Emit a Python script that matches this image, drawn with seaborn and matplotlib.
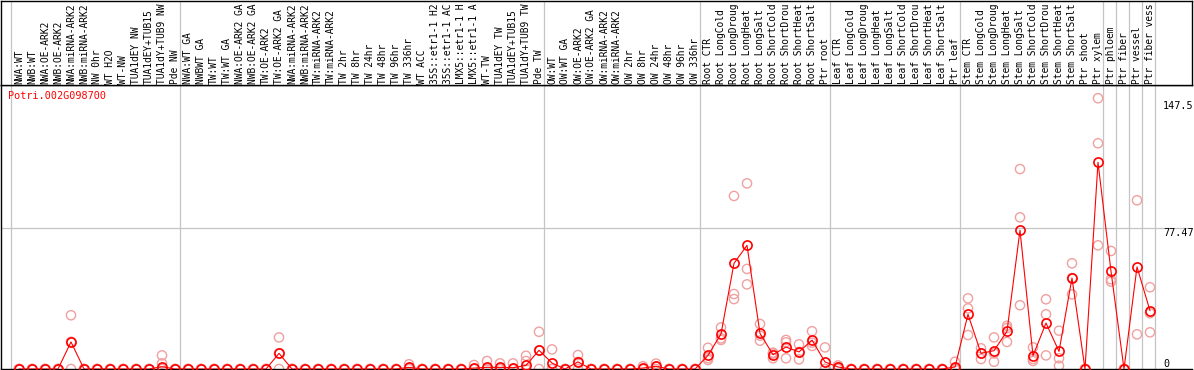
import numpy as np
import pandas as pd
import matplotlib
matplotlib.use("Agg")
import matplotlib.pyplot as plt
import matplotlib.transforms as mtransforms
import seaborn as sns

# ---------------- data ----------------
gene = "Potri.002G098700"

labels_nw = ["NWA:WT", "NWB:WT", "NWA:OE-ARK2", "NWB:OE-ARK2", "NWA:miRNA-ARK2",
             "NWB:miRNA-ARK2", "NW 0hr", "WT H2O", "WT-NW", "TUA1dEY NW",
             "TUA1dEY+TUB15 NW", "TUA1dY+TUB9 NW", "Pde NW"]
labels_tw = ["NWA:WT GA", "NWBWT GA", "TW:WT", "TW:WT GA", "NWA:OE-ARK2 GA",
             "NWB:OE-ARK2 GA", "TW:OE-ARK2", "TW:OE-ARK2 GA", "NWA:miRNA-ARK2 GA",
             "NWB:miRNA-ARK2 GA", "TW:miRNA-ARK2", "TW:miRNA-ARK2 GA", "TW 2hr", "TW 8hr",
             "TW 24hr", "TW 48hr", "TW 96hr", "TW 336hr", "WT ACC", "35S::etr1-1 H2O",
             "35S::etr1-1 ACC", "LMX5::etr1-1 H2O", "LMX5::etr1-1 ACC", "WT-TW",
             "TUA1dEY TW", "TUA1dEY+TUB15 TW", "TUA1dY+TUB9 TW", "Pde TW"]
labels_ow = ["OW:WT", "OW:WT GA", "OW:OE-ARK2", "OW:OE-ARK2 GA", "OW:miRNA-ARK2",
             "OW:miRNA-ARK2 GA", "OW 2hr", "OW 8hr", "OW 24hr", "OW 48hr", "OW 96hr",
             "OW 336hr"]
labels_root = ["Root CTR", "Root LongCold", "Root LongDrought", "Root LongHeat",
               "Root LongSalt", "Root ShortCold", "Root ShortDrought", "Root ShortHeat",
               "Root ShortSalt", "Ptr root"]
labels_leaf = ["Leaf CTR", "Leaf LongCold", "Leaf LongDrought", "Leaf LongHeat",
               "Leaf LongSalt", "Leaf ShortCold", "Leaf ShortDrought", "Leaf ShortHeat",
               "Leaf ShortSalt", "Ptr leaf"]
labels_stem = ["Stem CTR", "Stem LongCold", "Stem LongDrought", "Stem LongHeat",
               "Stem LongSalt", "Stem ShortCold", "Stem ShortDrought", "Stem ShortHeat",
               "Stem ShortSalt", "Ptr shoot", "Ptr xylem"]
labels_tissue = ["Ptr phloem", "Ptr fiber", "Ptr vessel", "Ptr fiber vessel"]

group_sizes = [13, 28, 12, 10, 10, 11, 1, 1, 1, 1]

mean_values = [
    # NW
    0, 0, 0, 0, 14.9, 0, 0, 0, 0, 0, 0, 1.3, 0,
    # TW
    0, 0, 0, 0, 0, 0, 0, 8.6, 0, 0, 0, 0, 0, 0, 0, 0, 0, 0.9, 0, 0, 0, 0,
    0.5, 0.9, 0.9, 0.7, 2.0, 10.3,
    # OW
    3.3, 0, 3.9, 0, 0, 0, 0, 0.5, 1.5, 0, 0, 0,
    # Root
    7.5, 19.3, 58.2, 68.1, 19.6, 7.9, 12.1, 9.4, 15.9, 3.9,
    # Leaf
    1.1, 0, 0, 0, 0, 0, 0, 0, 0, 1.1,
    # Stem
    30.1, 8.6, 10.1, 20.8, 76.4, 7.3, 25.3, 9.7, 50.1, 0, 113.8,
    # tissues
    53.8, 0, 56.2, 32.1,
]

rep1 = [0, 0, 0, 0, 29.6, 0, 0, 0, 0, 0, 0, 7.5, 0,
        0, 0, 0, 0, 0, 0, 0, 17.4, 0, 0, 0, 0, 0, 0, 0, 0, 0, 2.6, 0, 0, 0, 0,
        2.2, 4.4, 3.1, 3.1, 7.3, 20.5,
        10.8, 0, 7.7, 0, 0, 0, 0, 1.5, 3.0, 0, 0, 0,
        11.7, 22.9, 95.3, 102.2, 24.8, 9.0, 16.0, 13.6, 20.8, 11.9,
        2.0, 0, 0, 0, 0, 0, 0, 0, 0, 4.0,
        38.9, 11.4, 17.4, 23.8, 110.1, 11.9, 38.4, 21.1, 58.2, 0, 149.1,
        65.0, 0, 92.9, 45.0]
rep2 = [0, 0, 0, 0, 15.0, 0, 0, 0, 0, 0, 0, 3.1, 0,
        0, 0, 0, 0, 0, 0, 0, 8.6, 0, 0, 0, 0, 0, 0, 0, 0, 0, 0, 0, 0, 0, 0,
        0, 0, 0, 0, 4.4, 10.3,
        0, 0, 3.9, 0, 0, 0, 0, 0, 1.3, 0, 0, 0,
        5.0, 16.9, 41.3, 55.1, 15.6, 5.9, 14.7, 5.3, 12.7, 0,
        1.0, 0, 0, 0, 0, 0, 0, 0, 0, 0,
        33.4, 5.5, 8.6, 14.9, 83.5, 5.5, 30.1, 5.9, 41.1, 0, 124.3,
        49.4, 0, 19.1, 30.7]
rep3 = [0, 0, 0, 0, 0, 0, 0, 0, 0, 0, 0, 0, 0,
        0, 0, 0, 0, 0, 0, 0, 0, 0, 0, 0, 0, 0, 0, 0, 0, 0, 0, 0, 0, 0, 0,
        0, 0, 0, 0, 0, 0,
        0, 0, 0, 0, 0, 0, 0, 0, 0, 0, 0, 0,
        6.0, 16.0, 38.5, 46.6, 18.4, 8.5, 5.9, 9.4, 14.5, 0,
        0, 0, 0, 0, 0, 0, 0, 0, 0, 0,
        18.7, 8.6, 4.0, 22.5, 35.1, 4.4, 7.5, 1.8, 50.1, 0, 68.1,
        48.1, 0, np.nan, 20.2]

ytick_values = [147.5, 77.47, 0]
ytick_labels = ["147.5", "77.47", "0"]

# ---------------- layout ----------------
labels = labels_nw + labels_tw + labels_ow + labels_root + labels_leaf + labels_stem + labels_tissue
MAXCH = 14  # header is only tall enough for 14 characters
shown = [lab[:MAXCH].rstrip() for lab in labels]
n = len(labels)
idx = np.arange(n)

W, H = 1194, 370
RED = "#ff0000"
PINK = "#f0a0a0"
GRID = "#c4c4c4"
FONT = "DejaVu Sans Mono"

sns.set_theme(style="white")
plt.rcParams["font.family"] = [FONT, "DejaVu Sans"]

fig = plt.figure(figsize=(W / 100, H / 100), dpi=100)
fig.patch.set_facecolor("white")

x_px0 = 19.0   # pixel of category 0
step = 13.0    # pixels per category
left_px, right_px = 1.0, 1192.0
xlim = ((left_px - x_px0) / step, (right_px - x_px0) / step)

top_px, bot_px = 85.0, 369.0
ppu = 1.816  # pixels per unit
ylim = (0, (bot_px - top_px) / ppu)

ax = fig.add_axes([left_px / W, (H - bot_px) / H, (right_px - left_px) / W, (bot_px - top_px) / H])
axh = fig.add_axes([left_px / W, (H - top_px) / H, (right_px - left_px) / W, (top_px - 0.5) / H], sharex=ax)

for a in (ax, axh):
    a.set_facecolor("white")
    a.set_xlim(*xlim)
    a.tick_params(left=False, bottom=False, labelleft=False, labelbottom=False)
    for s in a.spines.values():
        s.set_color("black")
        s.set_linewidth(1.0)
ax.spines["right"].set_visible(False)
ax.set_ylim(*ylim)
axh.set_ylim(0, 1)

# group separators
bounds = np.concatenate([[0], np.cumsum(group_sizes)])
for b in bounds:
    for a in (ax, axh):
        a.axvline(b - 0.6, color=GRID, lw=0.9, zorder=0.5)
# horizontal grid line
ax.axhline(ytick_values[1], color=GRID, lw=0.9, zorder=0.5)

# replicate points
reps = pd.DataFrame({
    "idx": np.concatenate([idx, idx, idx]),
    "val": np.concatenate([rep1, rep2, rep3]),
}).dropna()
sns.scatterplot(data=reps, x="idx", y="val", ax=ax, marker="o", s=44,
                facecolor="none", edgecolor=PINK, linewidth=1.0, zorder=2, legend=False)

# mean line
means = pd.DataFrame({"idx": idx, "val": mean_values})
sns.lineplot(data=means, x="idx", y="val", ax=ax, color=RED, lw=0.8, marker="o",
             markersize=6.6, markerfacecolor="none", markeredgecolor=RED,
             markeredgewidth=1.2, zorder=3, legend=False)
ax.set_xlabel("")
ax.set_ylabel("")
ax.set_xlim(*xlim)
ax.set_ylim(*ylim)

# category labels in header
lab_off = mtransforms.ScaledTranslation(0, 1.5 / 100, fig.dpi_scale_trans)
for i, lab in enumerate(shown):
    axh.text(i, 0, lab, rotation=90, ha="center", va="bottom", fontsize=6.9,
             family=FONT, color="black", transform=axh.transData + lab_off)

# gene title
fig.text(8 / W, 1 - 91 / H, gene, color=RED, fontsize=7.3, family=FONT, ha="left", va="top")

# y labels on the right inside the plot
ytrans = mtransforms.blended_transform_factory(fig.transFigure, ax.transData)
for v, t in zip(ytick_values, ytick_labels):
    va = "bottom" if v == 0 else "top"
    ax.text(1163 / W, v, t, transform=ytrans, ha="left", va=va, fontsize=7.3,
            family=FONT, color="black", clip_on=False)

fig.savefig("out.png", dpi=100, facecolor="white")
